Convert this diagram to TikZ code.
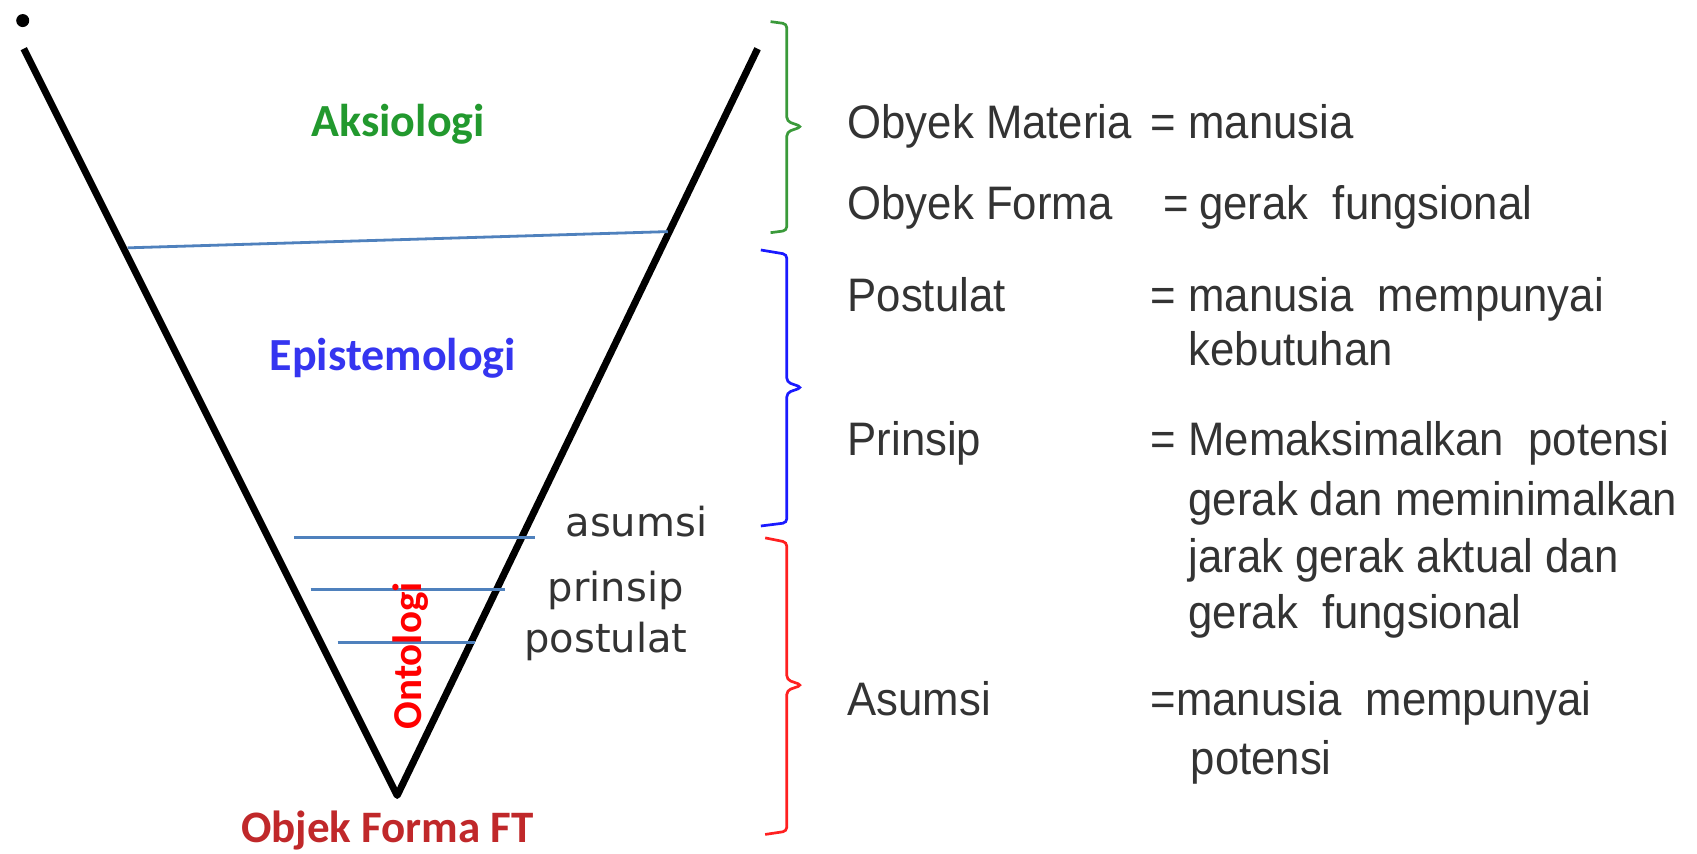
\documentclass[tikz,border=0pt]{standalone}
\usepackage{fontspec}
\setmainfont{Liberation Sans}
\newfontfamily\rfont[FakeStretch=0.93]{Liberation Sans}
\newfontfamily\calib{Carlito}
\newfontfamily\dejav{DejaVu Sans}
\definecolor{aksgreen}{HTML}{22992E}
\definecolor{epiblue}{HTML}{3535F0}
\definecolor{objred}{HTML}{C0282A}
\definecolor{ontred}{HTML}{FF0000}
\definecolor{lineblue}{HTML}{4F81BD}
\definecolor{brgreen}{HTML}{3A9A3A}
\definecolor{brblue}{HTML}{1A1AFF}
\definecolor{brred}{HTML}{FF2020}
\definecolor{txt}{HTML}{333333}
\tikzset{
  vline/.style={line width=7pt, black, line join=round},
  layer/.style={line width=2.8pt, lineblue},
  bracepath/.style={line width=2.7pt, rounded corners=4pt},
  bold label/.style={font=\calib\bfseries\fontsize{46}{52}\selectfont, inner sep=0pt},
  small label/.style={font=\dejav\fontsize{40}{46}\selectfont, text=txt, inner sep=0pt},
  rtext/.style={font=\rfont\fontsize{47}{52}\selectfont, text=txt, inner sep=0pt, anchor=base west},
}
\begin{document}
\begin{tikzpicture}[x=1.0823pt, y=-1.0823pt]
\useasboundingbox (0,0) rectangle (1568,789);
\fill[white] (0,0) rectangle (1568,789);
% dot
\coordinate (dot) at (21,19);
\fill[black] (dot) circle [radius=6.5pt];
% V shape
\coordinate (lt) at (22,45);
\coordinate (rt) at (700,45);
\coordinate (apex) at (367,735);
\draw[vline] (lt) -- (apex) -- (rt);
% layer lines
\coordinate (l1a) at (118,229); \coordinate (l1b) at (617,214);
\coordinate (l2a) at (272,497); \coordinate (l2b) at (494,497);
\coordinate (l3a) at (287,545); \coordinate (l3b) at (467,545);
\coordinate (l4a) at (312,594); \coordinate (l4b) at (439,594);
\draw[layer] (l1a) -- (l1b);
\draw[layer] (l2a) -- (l2b);
\draw[layer] (l3a) -- (l3b);
\draw[layer] (l4a) -- (l4b);
% labels in V
\node[bold label, text=aksgreen] (aks) at (368,115) {Aksiologi};
\node[bold label, text=epiblue] (epi) at (363,331) {Epistemologi};
\node[bold label, text=objred, font=\calib\bfseries\fontsize{45}{50}\selectfont] (obj) at (358,767) {Objek Forma FT};
\node[bold label, text=ontred, rotate=90, font=\calib\bfseries\fontsize{41}{46}\selectfont] (ont) at (379,606) {Ontologi};
\node[small label] (asm) at (588,482) {asumsi};
\node[small label] (prs) at (569,546) {prinsip};
\node[small label] (pst) at (560,593) {postulat};
% braces
\draw[bracepath, brgreen] (712,20) -- (727,22) -- (727,112) -- (741,117) -- (727,122) -- (727,213) -- (712,215);
\draw[bracepath, brblue] (703,231) -- (727,235) -- (727,353) -- (741,358) -- (727,363) -- (727,483) -- (703,486);
\draw[bracepath, brred] (707,497) -- (727,501) -- (727,628) -- (741,633) -- (727,638) -- (727,768) -- (707,771);
% right text
\node[rtext] (om1) at (783,128) {Obyek\ Materia};
\node[rtext] (om2) at (1063,128) {=};
\node[rtext] (om3) at (1098,128) {manusia};
\node[rtext] (of1) at (783,203) {Obyek\ Forma};
\node[rtext] (of2) at (1075,203) {=};
\node[rtext] (of3) at (1108,203) {gerak\ \ fungsional};
\node[rtext] (po1) at (783,288) {Postulat};
\node[rtext] (po2) at (1063,288) {=};
\node[rtext] (po3) at (1098,288) {manusia\ \ mempunyai};
\node[rtext] (po4) at (1098,338) {kebutuhan};
\node[rtext] (pr1) at (783,421) {Prinsip};
\node[rtext] (pr2) at (1063,421) {=};
\node[rtext] (pr3) at (1098,421) {Memaksimalkan\ \ potensi};
\node[rtext] (pr4) at (1098,476) {gerak\ dan meminimalkan};
\node[rtext] (pr5) at (1098,529) {jarak\ gerak aktual\ dan};
\node[rtext] (pr6) at (1098,581) {gerak\ \ fungsional};
\node[rtext] (as1) at (783,661) {Asumsi};
\node[rtext] (as2) at (1063,661) {=manusia\ \ mempunyai};
\node[rtext] (as3) at (1100,716) {potensi};
\end{tikzpicture}
\end{document}
